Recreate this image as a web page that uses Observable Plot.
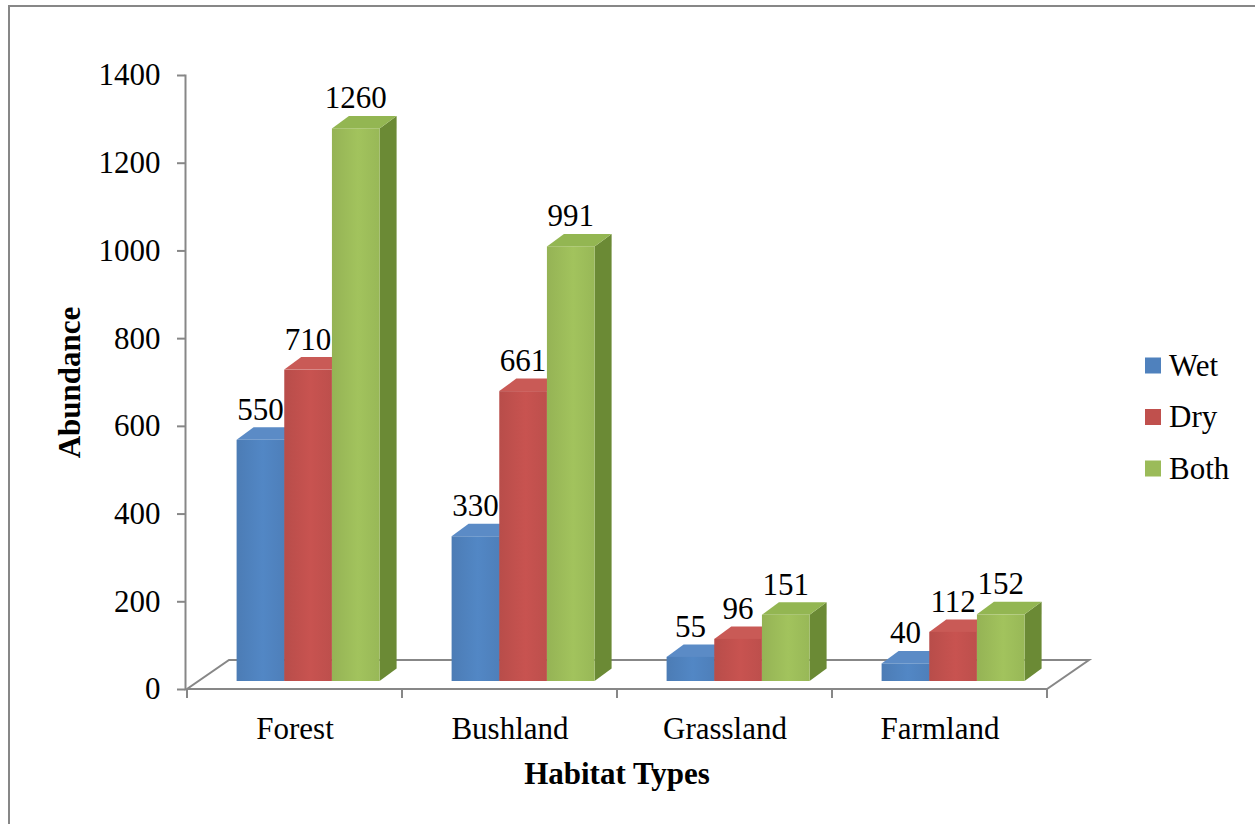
<!DOCTYPE html>
<html>
<head>
<meta charset="utf-8">
<script src="https://cdn.jsdelivr.net/npm/d3@7"></script>
<script src="https://cdn.jsdelivr.net/npm/@observablehq/plot@0.6"></script>
<style>
  html, body { margin: 0; padding: 0; background: #fff; }
  #wrap { position: relative; width: 1255px; height: 824px; overflow: hidden; font-family: "Liberation Serif", "Times New Roman", serif; }
  #border { position: absolute; left: 8px; top: 5px; width: 1300px; height: 900px; border-left: 2px solid #878787; border-top: 2px solid #878787; pointer-events: none; }
  #chart { position: absolute; left: 0; top: 0; }
  #legend { position: absolute; left: 0; top: 0; pointer-events: none; }
</style>
</head>
<body>
<div id="wrap">
  <div id="border"></div>
  <div id="chart"></div>
  <svg id="legend" width="1255" height="824"></svg>
</div>
<script>
// ---- data ----
const categories = ["Forest", "Bushland", "Grassland", "Farmland"];
const series = ["Wet", "Dry", "Both"];
const wet  = [550, 330, 55, 40];
const dry  = [710, 661, 96, 112];
const both = [1260, 991, 151, 152];
const yTicks = [0, 200, 400, 600, 800, 1000, 1200, 1400];
const frontColors = ["#4F81BD", "#C0504D", "#9BBB59"];
const topColors   = ["#5b8bc6", "#c95a56", "#93b652"];
const sideColors  = ["#385f8f", "#973d3a", "#6b8a35"];

const seriesValues = [wet, dry, both];
const data = categories.flatMap((c, i) =>
  series.map((s, j) => ({category: c, series: s, sIndex: j, value: seriesValues[j][i]}))
);

const FONT = "Liberation Serif, Times New Roman, serif";
const AXIS_GRAY = "#878787";

// 3D floor + bars drawn with Plot's scales
function bars3d(index, scales, values, dimensions) {
  const {x, y} = scales;
  const bw = x.bandwidth();
  const g = d3.create("svg:g");
  const defs = g.append("defs");
  frontColors.forEach((c, j) => {
    const lg = defs.append("linearGradient").attr("id", "fg" + j).attr("x1", 0).attr("x2", 1).attr("y1", 0).attr("y2", 0);
    const base = d3.color(c);
    lg.append("stop").attr("offset", 0).attr("stop-color", base.darker(0.12));
    lg.append("stop").attr("offset", 0.55).attr("stop-color", base.brighter(0.12));
    lg.append("stop").attr("offset", 1).attr("stop-color", base.darker(0.05));
  });
  // floor
  const fx0 = x(categories[0]);
  const fx1 = x(categories[categories.length - 1]) + bw;
  const fy = y(0);
  const D = [42, -29];
  g.append("path")
    .attr("d", `M${fx0},${fy}L${fx1},${fy}L${fx1 + D[0]},${fy + D[1]}L${fx0 + D[0]},${fy + D[1]}Z`)
    .attr("fill", "none").attr("stroke", AXIS_GRAY).attr("stroke-width", 2);
  // category boundary ticks
  const bounds = categories.map(c => x(c)).concat([fx1]);
  bounds.forEach(bx => {
    g.append("line").attr("x1", bx).attr("x2", bx).attr("y1", fy).attr("y2", fy + 9)
      .attr("stroke", AXIS_GRAY).attr("stroke-width", 2);
  });
  // bars
  const f = [13.6, -8];
  const d = [17, -12.5];
  const gw = 143;
  const barW = gw / 3;
  const labels = [];
  for (const row of data) {
    const j = row.sIndex;
    const start = x(row.category) + (bw - gw) / 2 + f[0];
    const left = start + j * barW;
    const right = left + barW;
    const top = y(row.value) + f[1];
    const bottom = y(0) + f[1];
    g.append("path")
      .attr("d", `M${right},${top}L${right + d[0]},${top + d[1]}L${right + d[0]},${bottom + d[1]}L${right},${bottom}Z`)
      .attr("fill", sideColors[j]);
    g.append("path")
      .attr("d", `M${left},${top}L${left + d[0]},${top + d[1]}L${right + d[0]},${top + d[1]}L${right},${top}Z`)
      .attr("fill", topColors[j]);
    g.append("rect").attr("x", left).attr("y", top).attr("width", barW).attr("height", bottom - top)
      .attr("fill", `url(#fg${j})`);
    labels.push({x: (left + right) / 2, y: top - 20, text: String(row.value)});
  }
  labels.forEach(l => {
    g.append("text").attr("x", l.x).attr("y", l.y).attr("text-anchor", "middle")
      .attr("font-family", FONT).attr("font-size", 31).attr("fill", "#000").text(l.text);
  });
  return g.node();
}

const chart = Plot.plot({
  width: 1255,
  height: 824,
  marginLeft: 185,
  marginRight: 207,
  marginTop: 75,
  marginBottom: 135,
  style: {fontFamily: FONT, background: "transparent", color: "#000"},
  x: {type: "band", domain: categories, padding: 0, axis: null},
  y: {domain: [0, 1400], axis: null},
  marks: [
    Plot.frame({anchor: "left", stroke: AXIS_GRAY, strokeWidth: 2}),
    Plot.axisY({ticks: yTicks, tickSize: 8, tickPadding: 17, fontSize: 31, stroke: AXIS_GRAY, strokeWidth: 2, fill: "#000", tickFormat: d => String(d), label: null}),
    Plot.axisX({tickSize: 0, tickPadding: 27, fontSize: 31, fill: "#000", label: null}),
    bars3d,
    Plot.text(["Habitat Types"], {frameAnchor: "bottom", dy: 94, fontSize: 31, fontWeight: "bold", fill: "#000"}),
    Plot.text(["Abundance"], {frameAnchor: "left", textAnchor: "middle", dx: -115, rotate: -90, fontSize: 31, fontWeight: "bold", fill: "#000"})
  ]
});
document.getElementById("chart").appendChild(chart);

// legend
const leg = d3.select("#legend");
const legendY = [365.5, 417, 468.5];
series.forEach((s, j) => {
  leg.append("rect").attr("x", 1145).attr("y", legendY[j] - 8).attr("width", 16).attr("height", 16).attr("fill", frontColors[j]);
  leg.append("text").attr("x", 1169).attr("y", legendY[j] + 10).attr("font-family", FONT).attr("font-size", 31).attr("fill", "#000").text(s);
});
</script>
</body>
</html>
